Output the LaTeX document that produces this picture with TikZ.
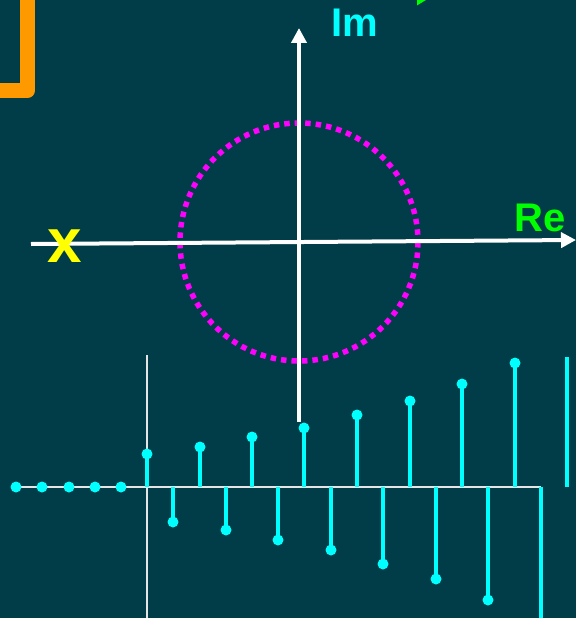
\documentclass[tikz,border=0pt]{standalone}
\usepackage{fontspec}
\setmainfont{Liberation Sans}
\usetikzlibrary{arrows.meta, positioning}
\definecolor{slidebg}{RGB}{1,61,72}
\definecolor{stemcyan}{RGB}{0,255,255}
\definecolor{regreen}{RGB}{0,255,0}
\definecolor{poleyellow}{RGB}{255,255,0}
\definecolor{boxorange}{RGB}{255,153,0}
\definecolor{circlemagenta}{RGB}{255,0,255}
\tikzset{
  planeaxis/.style={draw=white, line width=4pt, -{Triangle[length=15pt, width=15pt]}},
  thinaxis/.style={draw=white!80!gray, line width=2pt},
  stemline/.style={draw=stemcyan, line width=4.5pt},
  stemdot/.style={circle, fill=stemcyan, inner sep=0pt, minimum size=11pt},
  axislabel/.style={font=\bfseries\fontsize{40}{40}\selectfont, inner sep=0pt},
  unitcircle/.style={draw=circlemagenta, line width=5.5pt, dash pattern=on 5.5pt off 5pt}
}

\begin{document}
\begin{tikzpicture}[x=1pt, y=-1pt]
    \useasboundingbox (0,0) rectangle (576,618);
    \fill[slidebg] (0,0) rectangle (576,618);
    \clip (0,0) rectangle (576,618);
    % pieces cut by the frame
    \draw[boxorange, line width=15pt, line join=round] (27.5,-10) -- (27.5,90.5) -- (-10,90.5);
    \fill[regreen] (417,-5) -- (417,5.5) -- (434,-5) -- cycle;
    % z-plane
    \coordinate (origin) at (299,242);
    \draw[unitcircle] (origin) circle[radius=119];
    \coordinate (reL) at (31,244);
    \coordinate (reR) at (576,240);
    \coordinate (imB) at (299,422);
    \coordinate (imT) at (299,28);
    \draw[planeaxis] (reL) -- (reR);
    \draw[planeaxis] (imB) -- (imT);
    \node[axislabel, text=stemcyan] (imlabel) at (355,23) {Im};
    \node[axislabel, text=regreen] (relabel) at (540,218) {Re};
    \node[font=\bfseries\fontsize{62}{62}\selectfont, text=poleyellow, inner sep=0pt] (pole) at (65,246) {x};
    % sequence
    \coordinate (seqL) at (15,487);
    \coordinate (seqR) at (541,487);
    \coordinate (nzeroT) at (147,355);
    \coordinate (nzeroB) at (147,618);
    \draw[thinaxis] (seqL) -- (seqR);
    \draw[thinaxis] (nzeroT) -- (nzeroB);
    \foreach \px [count=\i] in {16,42,69,95,121}
      \node[stemdot] (zero\i) at (\px,487) {};
    \foreach \px/\py [count=\i] in {147/454, 173/522, 200/447, 226/530, 252/437,
        278/540, 304/428, 331/550, 357/415, 383/564, 410/401, 436/579,
        462/384, 488/600, 515/363} {
      \coordinate (base\i) at (\px,487);
      \node[stemdot] (tip\i) at (\px,\py) {};
      \draw[stemline] (base\i) -- (tip\i.center);
    }
    \coordinate (baseA) at (541,487);
    \coordinate (endA) at (541,620);
    \coordinate (baseB) at (567,487);
    \coordinate (endB) at (567,357);
    \draw[stemline] (baseA) -- (endA);
    \draw[stemline] (baseB) -- (endB);
  \end{tikzpicture}
\end{document}
